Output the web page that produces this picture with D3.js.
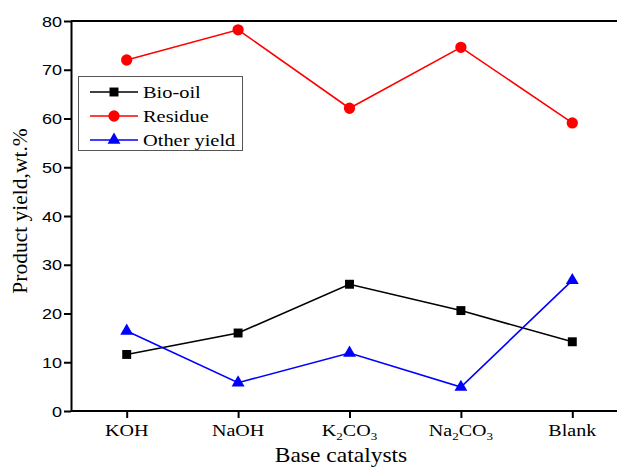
<!DOCTYPE html>
<html>
<head>
<meta charset="utf-8">
<script src="https://cdn.jsdelivr.net/npm/d3@7"></script>
<style>
  body { margin: 0; background: #fff; }
  svg { display: block; }
</style>
</head>
<body>
<div id="chart"></div>
<script>
// -------- Data --------
const categories = ["KOH", "NaOH", "K2CO3", "Na2CO3", "Blank"];
const bioOil = [11.6, 16.0, 26.0, 20.6, 14.2];
const residue = [72.0, 78.2, 62.1, 74.6, 59.1];
const otherYield = [16.4, 5.8, 11.9, 4.9, 26.8];
const yTicks = [0, 10, 20, 30, 40, 50, 60, 70, 80];

const series = [
  { name: "Bio-oil", values: bioOil, color: "#000000", symbol: d3.symbolSquare, size: 80 },
  { name: "Residue", values: residue, color: "#ff0000", symbol: d3.symbolCircle, size: 100 },
  { name: "Other yield", values: otherYield, color: "#0000ff", symbol: d3.symbolTriangle, size: 72 }
];

const width = 617, height = 467;
const plotLeft = 71, plotTop = 21, plotBottom = 411;
const serif = "'Liberation Serif', 'Times New Roman', serif";
const sans = "'Liberation Sans', Arial, sans-serif";

const svg = d3.select("#chart").append("svg")
  .attr("width", width).attr("height", height);

const x = d3.scalePoint().domain(categories).range([plotLeft, 628]).padding(0.5);
const y = d3.scaleLinear().domain([0, 80]).range([plotBottom, plotTop]);

// the source image is a bit stretched sideways, so text gets a horizontal scale
function stretchedText(px, py, sx, size, family, anchor) {
  return svg.append("g")
    .attr("transform", `translate(${px},${py}) scale(${sx},1)`)
    .append("text")
    .attr("text-anchor", anchor)
    .attr("font-family", family)
    .attr("font-size", size)
    .attr("fill", "#000");
}

// -------- Axes --------
const yAxis = svg.append("g")
  .attr("transform", `translate(${plotLeft},0)`)
  .call(d3.axisLeft(y).tickValues(yTicks).tickSize(7).tickSizeOuter(0).tickFormat(""));
yAxis.select(".domain").attr("stroke-width", 2);
yAxis.selectAll(".tick line").attr("stroke-width", 2);

yTicks.forEach(v => {
  stretchedText(62, y(v) + 5.5, 1.2, 15, sans, "end").text(v);
});

const xAxis = svg.append("g")
  .attr("transform", `translate(0,${plotBottom})`)
  .call(d3.axisBottom(x).tickSize(7).tickSizeOuter(0).tickFormat(""));
xAxis.select(".domain").attr("stroke-width", 2).attr("d", `M${plotLeft},0H${width}`);
xAxis.selectAll(".tick line").attr("stroke-width", 2);

// top border
svg.append("line")
  .attr("x1", plotLeft).attr("x2", width).attr("y1", plotTop).attr("y2", plotTop)
  .attr("stroke", "#000").attr("stroke-width", 2);

// category labels with subscripts
categories.forEach(c => {
  const t = stretchedText(x(c), 436, 1.18, 17, serif, "middle");
  c.match(/[A-Za-z]+|\d+/g).forEach(p => {
    const sp = t.append("tspan").text(p);
    if (/^\d+$/.test(p)) sp.attr("baseline-shift", "-35%").attr("font-size", 11);
  });
});

// axis titles
stretchedText(341, 462, 1.12, 21, serif, "middle").text("Base catalysts");

svg.append("text")
  .attr("transform", "translate(27,211) rotate(-90)")
  .attr("text-anchor", "middle")
  .attr("font-family", serif).attr("font-size", 21.5)
  .text("Product yield,wt.%");

// -------- Lines and markers --------
const line = d3.line()
  .x((d, i) => x(categories[i]))
  .y(d => y(d));

series.forEach(s => {
  svg.append("path")
    .datum(s.values)
    .attr("d", line)
    .attr("fill", "none")
    .attr("stroke", s.color)
    .attr("stroke-width", 1.6);

  svg.append("g")
    .selectAll("path")
    .data(s.values)
    .join("path")
    .attr("d", d3.symbol().type(s.symbol).size(s.size))
    .attr("transform", (d, i) => `translate(${x(categories[i])},${y(d)})`)
    .attr("fill", s.color);
});

// -------- Legend --------
svg.append("rect")
  .attr("x", 78.5).attr("y", 76.5).attr("width", 164).attr("height", 74)
  .attr("fill", "#fff").attr("stroke", "#555").attr("stroke-width", 1);

series.forEach((s, i) => {
  const ly = 92 + i * 24;
  svg.append("line")
    .attr("x1", 90).attr("x2", 138).attr("y1", ly).attr("y2", ly)
    .attr("stroke", s.color).attr("stroke-width", 1.6);
  svg.append("path")
    .attr("d", d3.symbol().type(s.symbol).size(s.size))
    .attr("transform", `translate(114,${ly})`)
    .attr("fill", s.color);
  stretchedText(143, ly + 6, 1.2, 17, serif, "start").text(s.name);
});
</script>
</body>
</html>
